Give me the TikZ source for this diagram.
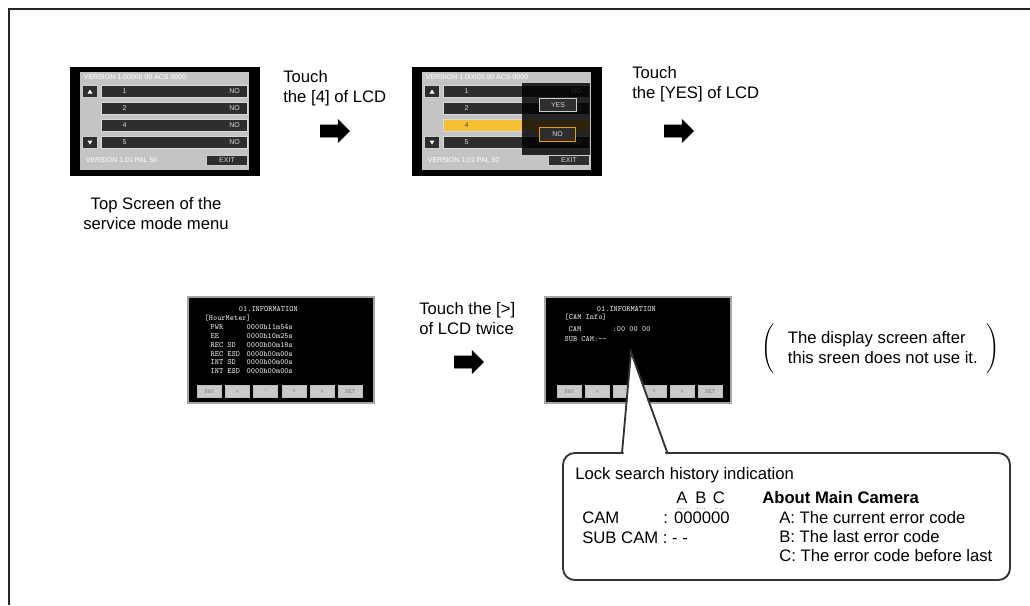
\documentclass[tikz,border=0pt]{standalone}
\usepackage{fontspec}
\setmainfont{Liberation Sans}
\usetikzlibrary{shapes.arrows, positioning, calc}

\definecolor{lcdgrey}{RGB}{196,196,196}
\definecolor{rowgrey}{RGB}{46,46,46}
\definecolor{pickyellow}{RGB}{246,192,52}
\definecolor{pickorange}{RGB}{228,160,24}
\definecolor{lcdtext}{RGB}{215,215,215}

\begin{document}
\begin{tikzpicture}[
    x=0.6pt, y=-0.6pt,
    font=\fontsize{10}{12}\selectfont,
    screen/.style={draw=black, fill=black, line width=0.6pt, minimum width=113.4pt, minimum height=64.8pt, inner sep=0pt},
    infoscreen/.style={draw=gray!70, fill=black, line width=0.8pt, minimum width=111.6pt, minimum height=63.6pt, inner sep=0pt},
    menurow/.style={fill=rowgrey, draw=white!85!black, line width=0.4pt},
    lcdbtn/.style={fill=rowgrey, draw=white!80!black, line width=0.4pt},
    infobtn/.style={draw=gray!50, fill=lightgray!85, minimum width=14.4pt, minimum height=7pt, inner sep=0pt, font=\fontsize{3.8}{4}\ttfamily, text=gray},
    lcdtxt/.style={font=\fontsize{4.2}{5}\selectfont, text=lcdtext, inner sep=0pt},
    infotxt/.style={font=\fontsize{4.8}{5.5}\ttfamily\bfseries, text=lcdtext, inner sep=0pt, anchor=west},
    blockarrow/.style={single arrow, fill=black, draw=black, inner xsep=0pt, inner ysep=3.4pt, text height=0pt, text depth=0pt, minimum height=17.4pt, single arrow head extend=3.2pt},
    steptext/.style={align=left, anchor=west, inner xsep=0pt},
    boxtext/.style={anchor=base west, inner sep=0pt},
    callout/.style={draw=black!80, line width=1.1pt, rounded corners=7pt, fill=white, minimum width=268.2pt, minimum height=76.2pt}
]
    \useasboundingbox (0,0) rectangle (1030,605);

    % Frame
    \draw[line width=1pt, black!85] (9,605) -- (9,9) -- (1030,9);

    % Top screen of the service menu
    \node[screen] (scr1) at (164.5,121) {};
    \begin{scope}[shift={(scr1.north west)}]
        \fill[lcdgrey] (10,5) rectangle (179,103);
        \node[lcdtxt, anchor=west, text=white] (title1) at (14,11) {VERSION 1.00000 00 ACS 0000};
        \foreach \y/\n in {19/1, 36/2, 53/4, 70/5} {
            \draw[menurow] (32,\y) rectangle (178,{\y+12});
            \node[lcdtxt] (num1-\n) at (55,{\y+6}) {\n};
            \node[lcdtxt] (no1-\n) at (165,{\y+6}) {NO};
        }
        \draw[lcdbtn] (13,19) rectangle (28,31);
        \fill[white] (18,27) -- (23,27) -- (20.5,23) -- cycle;
        \draw[lcdbtn] (13,70) rectangle (28,82);
        \fill[white] (18,74) -- (23,74) -- (20.5,78) -- cycle;
        \node[lcdtxt, anchor=west, text=white] (ver1) at (16,94) {VERSION 1.01 PAL 50};
        \draw[lcdbtn] (137,89) rectangle (178,99);
        \node[lcdtxt] (exit1) at (157.5,94) {EXIT};
    \end{scope}
    \node[align=center] (toplabel) at (156,214) {Top Screen of the\\service mode menu};

    \node[steptext] (touch4) at (283,88) {Touch\\the [4] of LCD};
    \node[blockarrow] (go1) at (332,131) {};

    % Confirmation screen
    \node[screen] (scr2) at (506.5,121) {};
    \begin{scope}[shift={(scr2.north west)}]
        \fill[lcdgrey] (10,5) rectangle (179,103);
        \node[lcdtxt, anchor=west, text=white] (title2) at (14,11) {VERSION 1.00000 00 ACS 0000};
        \foreach \y/\n in {19/1, 36/2, 70/5} {
            \draw[menurow] (32,\y) rectangle (178,{\y+12});
            \node[lcdtxt] (num2-\n) at (55,{\y+6}) {\n};
            \node[lcdtxt] (no2-\n) at (165,{\y+6}) {NO};
        }
        \draw[menurow, fill=pickyellow] (32,53) rectangle (178,65);
        \node[lcdtxt, text=black!70] (num2-4) at (55,59) {4};
        \draw[lcdbtn] (13,19) rectangle (28,31);
        \fill[white] (18,27) -- (23,27) -- (20.5,23) -- cycle;
        \draw[lcdbtn] (13,70) rectangle (28,82);
        \fill[white] (18,74) -- (23,74) -- (20.5,78) -- cycle;
        \node[lcdtxt, anchor=west, text=white] (ver2) at (16,94) {VERSION 1.01 PAL 50};
        \draw[lcdbtn] (137,89) rectangle (178,99);
        \node[lcdtxt] (exit2) at (157.5,94) {EXIT};
        % pop-up
        \fill[black, fill opacity=0.82] (110,16) rectangle (178,88);
        \draw[lcdbtn] (128,32) rectangle (165,45);
        \node[lcdtxt] (yes2) at (146.5,38.5) {YES};
        \draw[lcdbtn, draw=pickorange, line width=0.9pt] (128,61) rectangle (164,75);
        \node[lcdtxt] (nobtn2) at (146,68) {NO};
    \end{scope}

    \node[steptext] (touchyes) at (632,84) {Touch\\the [YES] of LCD};
    \node[blockarrow] (go2) at (676,131) {};

    % Information screen, hour meter
    \node[infoscreen] (scr3) at (281,350) {};
    \begin{scope}[shift={(scr3.north west)}]
        \node[infotxt, anchor=center] (head3) at (81,13) {01.INFORMATION};
        \node[infotxt] (sub3) at (17,22) {[HourMeter]};
        \foreach \y/\k/\v in {31/PWR/0000h11m54s, 40/EE/0000h10m25s, 49/REC SD/0000h00m18s,
                              58/REC ESD/0000h00m00s, 66/INT SD/0000h00m00s, 75/INT ESD/0000h00m00s} {
            \node[infotxt] (key3-\y) at (23,\y) {\k};
            \node[infotxt] (val3-\y) at (59,\y) {\v};
        }
        \foreach \i/\t in {0/BAK, 1/<, 2/\textasciicircum, 3/v, 4/>, 5/SET}
            \node[infobtn] (btn3-\i) at ({22+28.2*\i},95) {\t};
    \end{scope}

    \node[steptext] (twice) at (419,319) {Touch the [>]\\of LCD twice};
    \node[blockarrow] (go3) at (466,362) {};

    % Information screen, camera info
    \node[infoscreen] (scr4) at (638,350) {};
    \begin{scope}[shift={(scr4.north west)}]
        \node[infotxt, anchor=center] (head4) at (82,13) {01.INFORMATION};
        \node[infotxt] (sub4) at (20,21) {[CAM Info]};
        \node[infotxt] (cam4) at (24,33) {CAM};
        \node[infotxt] (camval4) at (68,33) {:00 00 00};
        \node[infotxt] (subcam4) at (20,43) {SUB CAM:--};
        \foreach \i/\t in {0/BAK, 1/<, 2/\textasciicircum, 3/v, 4/>, 5/SET}
            \node[infobtn] (btn4-\i) at ({25+28.2*\i},95) {\t};
    \end{scope}

    % Note
    \node[anchor=west, inner sep=0pt] (note) at (761,349) {$\left(\vrule height 16pt depth 12pt width 0pt\begin{tabular}{@{\hspace{8pt}}l@{\hspace{5pt}}}The display screen after\\this sreen does not use it.\end{tabular}\right)$};

    % Callout
    \node[callout] (lockbox) at (786.5,516.5) {};
    \coordinate (tip) at (631,352);
    \fill[white] ($(lockbox.north west)+(61.5,2)$) -- (tip) -- ($(lockbox.north west)+(103.5,2)$) -- cycle;
    \draw[black!80, line width=1.1pt] ($(lockbox.north west)+(60,0)$) -- (tip) -- ($(lockbox.north west)+(105,0)$);

    \node[boxtext] (locktitle) at (575,479) {Lock search history indication};
    \node[anchor=base] (lettA) at (682,503) {A};
    \node[anchor=base] (lettB) at (701,503) {B};
    \node[anchor=base] (lettC) at (719,503) {C};
    \foreach \l in {A,B,C}
        \draw[gray!60, densely dotted] ($(lett\l.south)+(-4,-1)$) -- ($(lett\l.south)+(4,-1)$);
    \node[boxtext, font=\fontsize{10}{12}\selectfont\bfseries] (aboutmain) at (762,503) {About Main Camera};
    \node[boxtext] (camkey) at (582,523) {CAM};
    \node[boxtext] (camcode) at (663,523) {: 000000};
    \node[boxtext] (subkey) at (582,543) {SUB CAM : - -};
    \node[boxtext] (codeA) at (779,523) {A: The current error code};
    \node[boxtext] (codeB) at (779,542) {B: The last error code};
    \node[boxtext] (codeC) at (779,561) {C: The error code before last};

\end{tikzpicture}
\end{document}
